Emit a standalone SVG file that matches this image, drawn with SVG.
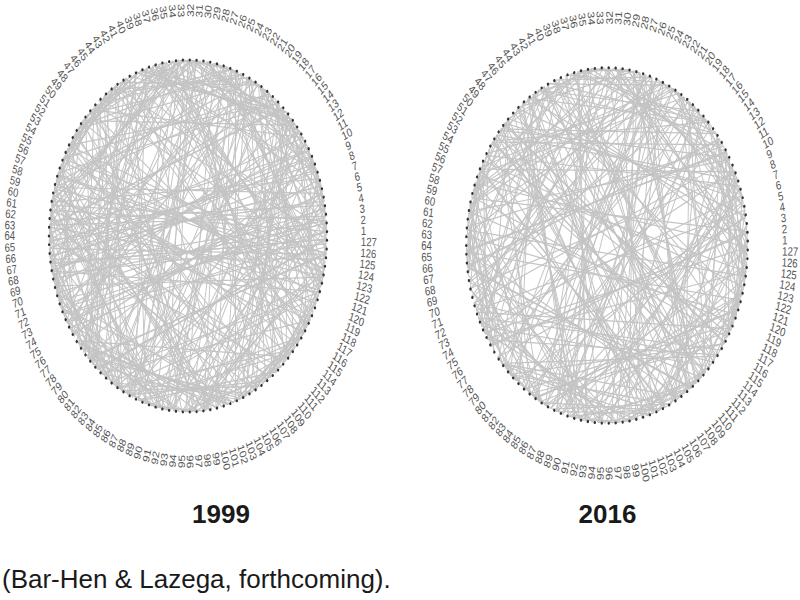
<svg xmlns="http://www.w3.org/2000/svg" width="800" height="600" viewBox="0 0 800 600">
<style>
.nodes circle{fill:#333333}
.nodes text{font-family:"Liberation Sans",Arial,sans-serif;font-size:12px;fill:#555555;dominant-baseline:central}
.nodes text.e{text-anchor:end}
.edges{stroke:#c4c4c4;stroke-width:1.2;fill:none}
.title{font-family:"Liberation Sans",Arial,sans-serif;font-size:26px;font-weight:bold;fill:#1a1a1a;text-anchor:middle}
.cap{font-family:"Liberation Sans",Arial,sans-serif;font-size:26px;fill:#1a1a1a}
</style>
<defs>
<line id="c20" x1="176" y1="0" x2="165.4" y2="60.2"/>
<line id="c30" x1="176" y1="0" x2="152.4" y2="88"/>
<line id="c40" x1="176" y1="0" x2="134.8" y2="113.1"/>
<line id="c50" x1="176" y1="0" x2="113.1" y2="134.8"/>
<line id="c60" x1="176" y1="0" x2="88" y2="152.4"/>
<line id="c70" x1="176" y1="0" x2="60.2" y2="165.4"/>
<line id="c80" x1="176" y1="0" x2="30.6" y2="173.3"/>
<line id="c90" x1="176" y1="0" x2="0" y2="176"/>
<line id="c100" x1="176" y1="0" x2="-30.6" y2="173.3"/>
<line id="c110" x1="176" y1="0" x2="-60.2" y2="165.4"/>
<line id="c120" x1="176" y1="0" x2="-88" y2="152.4"/>
<line id="c130" x1="176" y1="0" x2="-113.1" y2="134.8"/>
<line id="c140" x1="176" y1="0" x2="-134.8" y2="113.1"/>
<line id="c150" x1="176" y1="0" x2="-152.4" y2="88"/>
<line id="c160" x1="176" y1="0" x2="-165.4" y2="60.2"/>
<line id="c170" x1="176" y1="0" x2="-173.3" y2="30.6"/>
<line id="c180" x1="176" y1="0" x2="-170" y2="45.6"/>
<g id="bA">
<use href="#c90" transform="rotate(137.5)"/><use href="#c150" transform="rotate(275)"/><use href="#c40" transform="rotate(52.5)"/><use href="#c180" transform="rotate(190)"/>
<use href="#c120" transform="rotate(327.5)"/><use href="#c60" transform="rotate(105)"/><use href="#c160" transform="rotate(242.5)"/><use href="#c100" transform="rotate(20)"/>
<use href="#c30" transform="rotate(157.5)"/><use href="#c140" transform="rotate(295)"/><use href="#c70" transform="rotate(72.5)"/><use href="#c170" transform="rotate(210)"/>
<use href="#c110" transform="rotate(347.5)"/><use href="#c50" transform="rotate(125)"/><use href="#c130" transform="rotate(262.5)"/><use href="#c80" transform="rotate(40)"/>
<use href="#c20" transform="rotate(177.5)"/><use href="#c90" transform="rotate(315)"/><use href="#c150" transform="rotate(92.5)"/><use href="#c40" transform="rotate(230)"/>
<use href="#c180" transform="rotate(7.5)"/><use href="#c120" transform="rotate(145)"/><use href="#c60" transform="rotate(282.5)"/><use href="#c160" transform="rotate(60)"/>
<use href="#c100" transform="rotate(197.5)"/><use href="#c30" transform="rotate(335)"/><use href="#c140" transform="rotate(112.5)"/><use href="#c70" transform="rotate(250)"/>
<use href="#c170" transform="rotate(27.5)"/><use href="#c110" transform="rotate(165)"/><use href="#c50" transform="rotate(302.5)"/><use href="#c130" transform="rotate(80)"/>
<use href="#c80" transform="rotate(217.5)"/><use href="#c20" transform="rotate(355)"/><use href="#c90" transform="rotate(132.5)"/><use href="#c150" transform="rotate(270)"/>
<use href="#c40" transform="rotate(47.5)"/><use href="#c180" transform="rotate(185)"/><use href="#c120" transform="rotate(322.5)"/><use href="#c60" transform="rotate(100)"/>
<use href="#c160" transform="rotate(237.5)"/><use href="#c100" transform="rotate(15)"/><use href="#c30" transform="rotate(152.5)"/><use href="#c140" transform="rotate(290)"/>
<use href="#c70" transform="rotate(67.5)"/><use href="#c170" transform="rotate(205)"/><use href="#c110" transform="rotate(342.5)"/><use href="#c50" transform="rotate(120)"/>
<use href="#c130" transform="rotate(257.5)"/><use href="#c80" transform="rotate(35)"/><use href="#c20" transform="rotate(172.5)"/><use href="#c90" transform="rotate(310)"/>
<use href="#c150" transform="rotate(87.5)"/><use href="#c40" transform="rotate(225)"/><use href="#c180" transform="rotate(2.5)"/><use href="#c120" transform="rotate(140)"/>
<use href="#c60" transform="rotate(277.5)"/><use href="#c160" transform="rotate(55)"/><use href="#c100" transform="rotate(192.5)"/><use href="#c30" transform="rotate(330)"/>
<use href="#c140" transform="rotate(107.5)"/><use href="#c70" transform="rotate(245)"/><use href="#c170" transform="rotate(22.5)"/><use href="#c110" transform="rotate(160)"/>
</g>
<g id="bB">
<use href="#c130" transform="rotate(148.5)"/><use href="#c170" transform="rotate(286)"/><use href="#c60" transform="rotate(63.5)"/><use href="#c110" transform="rotate(201)"/>
<use href="#c20" transform="rotate(338.5)"/><use href="#c150" transform="rotate(116)"/><use href="#c90" transform="rotate(253.5)"/><use href="#c40" transform="rotate(31)"/>
<use href="#c180" transform="rotate(168.5)"/><use href="#c70" transform="rotate(306)"/><use href="#c120" transform="rotate(83.5)"/><use href="#c30" transform="rotate(221)"/>
<use href="#c160" transform="rotate(358.5)"/><use href="#c100" transform="rotate(136)"/><use href="#c50" transform="rotate(273.5)"/><use href="#c140" transform="rotate(51)"/>
<use href="#c80" transform="rotate(188.5)"/><use href="#c130" transform="rotate(326)"/><use href="#c170" transform="rotate(103.5)"/><use href="#c60" transform="rotate(241)"/>
<use href="#c110" transform="rotate(18.5)"/><use href="#c20" transform="rotate(156)"/><use href="#c150" transform="rotate(293.5)"/><use href="#c90" transform="rotate(71)"/>
<use href="#c40" transform="rotate(208.5)"/><use href="#c180" transform="rotate(346)"/><use href="#c70" transform="rotate(123.5)"/><use href="#c120" transform="rotate(261)"/>
<use href="#c30" transform="rotate(38.5)"/><use href="#c160" transform="rotate(176)"/><use href="#c100" transform="rotate(313.5)"/><use href="#c50" transform="rotate(91)"/>
<use href="#c140" transform="rotate(228.5)"/><use href="#c80" transform="rotate(6)"/><use href="#c130" transform="rotate(143.5)"/><use href="#c170" transform="rotate(281)"/>
<use href="#c60" transform="rotate(58.5)"/><use href="#c110" transform="rotate(196)"/><use href="#c20" transform="rotate(333.5)"/><use href="#c150" transform="rotate(111)"/>
<use href="#c90" transform="rotate(248.5)"/><use href="#c40" transform="rotate(26)"/><use href="#c180" transform="rotate(163.5)"/><use href="#c70" transform="rotate(301)"/>
<use href="#c120" transform="rotate(78.5)"/><use href="#c30" transform="rotate(216)"/><use href="#c160" transform="rotate(353.5)"/><use href="#c100" transform="rotate(131)"/>
<use href="#c50" transform="rotate(268.5)"/><use href="#c140" transform="rotate(46)"/><use href="#c80" transform="rotate(183.5)"/><use href="#c130" transform="rotate(321)"/>
<use href="#c170" transform="rotate(98.5)"/><use href="#c60" transform="rotate(236)"/><use href="#c110" transform="rotate(13.5)"/><use href="#c20" transform="rotate(151)"/>
<use href="#c150" transform="rotate(288.5)"/><use href="#c90" transform="rotate(66)"/><use href="#c40" transform="rotate(203.5)"/><use href="#c180" transform="rotate(341)"/>
<use href="#c70" transform="rotate(118.5)"/><use href="#c120" transform="rotate(256)"/><use href="#c30" transform="rotate(33.5)"/><use href="#c160" transform="rotate(171)"/>
</g>
</defs>
<rect width="800" height="600" fill="#ffffff"/>

<g id="net1999" transform="translate(188,236) scale(0.79,1)">
<g id="edges1999" class="edges">
<use href="#bA"/>
<use href="#bB"/>
<use href="#bA" transform="rotate(33) scale(1,-1)"/>
<use href="#bB" transform="rotate(97) scale(1,-1)"/>
<use href="#bA" transform="rotate(151)"/>
<use href="#bB" transform="rotate(262) scale(-1,1)"/>
<line x1="-165.4" y1="-60.2" x2="172.2" y2="36.6"/>
<line x1="-60.2" y1="-165.4" x2="45.6" y2="170"/>
<line x1="88" y1="-152.4" x2="-74.4" y2="159.5"/>
<line x1="-124.5" y1="124.5" x2="134.8" y2="-113.1"/>
<line x1="-173.3" y1="30.6" x2="175.3" y2="-15.3"/>
<line x1="-15.3" y1="175.3" x2="0" y2="-176"/>
<line x1="-124.5" y1="-124.5" x2="117.8" y2="130.8"/>
</g>
<g id="nodes1999" class="nodes">
<g id="p1" transform="rotate(-1.42)"><circle cx="176" r="1.5"/><text x="219">1</text></g>
<g id="p2" transform="rotate(-4.25)"><circle cx="176" r="1.5"/><text x="219">2</text></g>
<g id="p3" transform="rotate(-7.09)"><circle cx="176" r="1.5"/><text x="219">3</text></g>
<g id="p4" transform="rotate(-9.92)"><circle cx="176" r="1.5"/><text x="219">4</text></g>
<g id="p5" transform="rotate(-12.76)"><circle cx="176" r="1.5"/><text x="219">5</text></g>
<g id="p6" transform="rotate(-15.59)"><circle cx="176" r="1.5"/><text x="219">6</text></g>
<g id="p7" transform="rotate(-18.43)"><circle cx="176" r="1.5"/><text x="219">7</text></g>
<g id="p8" transform="rotate(-21.26)"><circle cx="176" r="1.5"/><text x="219">8</text></g>
<g id="p9" transform="rotate(-24.09)"><circle cx="176" r="1.5"/><text x="219">9</text></g>
<g id="p10" transform="rotate(-26.93)"><circle cx="176" r="1.5"/><text x="219">10</text></g>
<g id="p11" transform="rotate(-29.76)"><circle cx="176" r="1.5"/><text x="219">11</text></g>
<g id="p12" transform="rotate(-32.6)"><circle cx="176" r="1.5"/><text x="219">12</text></g>
<g id="p13" transform="rotate(-35.43)"><circle cx="176" r="1.5"/><text x="219">13</text></g>
<g id="p14" transform="rotate(-38.27)"><circle cx="176" r="1.5"/><text x="219">14</text></g>
<g id="p15" transform="rotate(-41.1)"><circle cx="176" r="1.5"/><text x="219">15</text></g>
<g id="p16" transform="rotate(-43.94)"><circle cx="176" r="1.5"/><text x="219">16</text></g>
<g id="p17" transform="rotate(-46.77)"><circle cx="176" r="1.5"/><text x="219">17</text></g>
<g id="p18" transform="rotate(-49.61)"><circle cx="176" r="1.5"/><text x="219">18</text></g>
<g id="p19" transform="rotate(-52.44)"><circle cx="176" r="1.5"/><text x="219">19</text></g>
<g id="p20" transform="rotate(-55.28)"><circle cx="176" r="1.5"/><text x="219">20</text></g>
<g id="p21" transform="rotate(-58.11)"><circle cx="176" r="1.5"/><text x="219">21</text></g>
<g id="p22" transform="rotate(-60.94)"><circle cx="176" r="1.5"/><text x="219">22</text></g>
<g id="p23" transform="rotate(-63.78)"><circle cx="176" r="1.5"/><text x="219">23</text></g>
<g id="p24" transform="rotate(-66.61)"><circle cx="176" r="1.5"/><text x="219">24</text></g>
<g id="p25" transform="rotate(-69.45)"><circle cx="176" r="1.5"/><text x="219">25</text></g>
<g id="p26" transform="rotate(-72.28)"><circle cx="176" r="1.5"/><text x="219">26</text></g>
<g id="p27" transform="rotate(-75.12)"><circle cx="176" r="1.5"/><text x="219">27</text></g>
<g id="p28" transform="rotate(-77.95)"><circle cx="176" r="1.5"/><text x="219">28</text></g>
<g id="p29" transform="rotate(-80.79)"><circle cx="176" r="1.5"/><text x="219">29</text></g>
<g id="p30" transform="rotate(-83.62)"><circle cx="176" r="1.5"/><text x="219">30</text></g>
<g id="p31" transform="rotate(-86.46)"><circle cx="176" r="1.5"/><text x="219">31</text></g>
<g id="p32" transform="rotate(-89.29)"><circle cx="176" r="1.5"/><text x="219">32</text></g>
<g id="p33" transform="rotate(87.87)"><circle cx="-176" r="1.5"/><text x="-219" class="e">33</text></g>
<g id="p34" transform="rotate(85.04)"><circle cx="-176" r="1.5"/><text x="-219" class="e">34</text></g>
<g id="p35" transform="rotate(82.2)"><circle cx="-176" r="1.5"/><text x="-219" class="e">35</text></g>
<g id="p36" transform="rotate(79.37)"><circle cx="-176" r="1.5"/><text x="-219" class="e">36</text></g>
<g id="p37" transform="rotate(76.54)"><circle cx="-176" r="1.5"/><text x="-219" class="e">37</text></g>
<g id="p38" transform="rotate(73.7)"><circle cx="-176" r="1.5"/><text x="-219" class="e">38</text></g>
<g id="p39" transform="rotate(70.87)"><circle cx="-176" r="1.5"/><text x="-219" class="e">39</text></g>
<g id="p40" transform="rotate(68.03)"><circle cx="-176" r="1.5"/><text x="-219" class="e">40</text></g>
<g id="p41" transform="rotate(65.2)"><circle cx="-176" r="1.5"/><text x="-219" class="e">41</text></g>
<g id="p42" transform="rotate(62.36)"><circle cx="-176" r="1.5"/><text x="-219" class="e">42</text></g>
<g id="p43" transform="rotate(59.53)"><circle cx="-176" r="1.5"/><text x="-219" class="e">43</text></g>
<g id="p44" transform="rotate(56.69)"><circle cx="-176" r="1.5"/><text x="-219" class="e">44</text></g>
<g id="p45" transform="rotate(53.86)"><circle cx="-176" r="1.5"/><text x="-219" class="e">45</text></g>
<g id="p46" transform="rotate(51.02)"><circle cx="-176" r="1.5"/><text x="-219" class="e">46</text></g>
<g id="p47" transform="rotate(48.19)"><circle cx="-176" r="1.5"/><text x="-219" class="e">47</text></g>
<g id="p48" transform="rotate(45.35)"><circle cx="-176" r="1.5"/><text x="-219" class="e">48</text></g>
<g id="p49" transform="rotate(42.52)"><circle cx="-176" r="1.5"/><text x="-219" class="e">49</text></g>
<g id="p50" transform="rotate(39.69)"><circle cx="-176" r="1.5"/><text x="-219" class="e">50</text></g>
<g id="p51" transform="rotate(36.85)"><circle cx="-176" r="1.5"/><text x="-219" class="e">51</text></g>
<g id="p52" transform="rotate(34.02)"><circle cx="-176" r="1.5"/><text x="-219" class="e">52</text></g>
<g id="p53" transform="rotate(31.18)"><circle cx="-176" r="1.5"/><text x="-219" class="e">53</text></g>
<g id="p54" transform="rotate(28.35)"><circle cx="-176" r="1.5"/><text x="-219" class="e">54</text></g>
<g id="p55" transform="rotate(25.51)"><circle cx="-176" r="1.5"/><text x="-219" class="e">55</text></g>
<g id="p56" transform="rotate(22.68)"><circle cx="-176" r="1.5"/><text x="-219" class="e">56</text></g>
<g id="p57" transform="rotate(19.84)"><circle cx="-176" r="1.5"/><text x="-219" class="e">57</text></g>
<g id="p58" transform="rotate(17.01)"><circle cx="-176" r="1.5"/><text x="-219" class="e">58</text></g>
<g id="p59" transform="rotate(14.17)"><circle cx="-176" r="1.5"/><text x="-219" class="e">59</text></g>
<g id="p60" transform="rotate(11.34)"><circle cx="-176" r="1.5"/><text x="-219" class="e">60</text></g>
<g id="p61" transform="rotate(8.5)"><circle cx="-176" r="1.5"/><text x="-219" class="e">61</text></g>
<g id="p62" transform="rotate(5.67)"><circle cx="-176" r="1.5"/><text x="-219" class="e">62</text></g>
<g id="p63" transform="rotate(2.83)"><circle cx="-176" r="1.5"/><text x="-219" class="e">63</text></g>
<g id="p64" transform="rotate(0)"><circle cx="-176" r="1.5"/><text x="-219" class="e">64</text></g>
<g id="p65" transform="rotate(-2.83)"><circle cx="-176" r="1.5"/><text x="-219" class="e">65</text></g>
<g id="p66" transform="rotate(-5.67)"><circle cx="-176" r="1.5"/><text x="-219" class="e">66</text></g>
<g id="p67" transform="rotate(-8.5)"><circle cx="-176" r="1.5"/><text x="-219" class="e">67</text></g>
<g id="p68" transform="rotate(-11.34)"><circle cx="-176" r="1.5"/><text x="-219" class="e">68</text></g>
<g id="p69" transform="rotate(-14.17)"><circle cx="-176" r="1.5"/><text x="-219" class="e">69</text></g>
<g id="p70" transform="rotate(-17.01)"><circle cx="-176" r="1.5"/><text x="-219" class="e">70</text></g>
<g id="p71" transform="rotate(-19.84)"><circle cx="-176" r="1.5"/><text x="-219" class="e">71</text></g>
<g id="p72" transform="rotate(-22.68)"><circle cx="-176" r="1.5"/><text x="-219" class="e">72</text></g>
<g id="p73" transform="rotate(-25.51)"><circle cx="-176" r="1.5"/><text x="-219" class="e">73</text></g>
<g id="p74" transform="rotate(-28.35)"><circle cx="-176" r="1.5"/><text x="-219" class="e">74</text></g>
<g id="p75" transform="rotate(-31.18)"><circle cx="-176" r="1.5"/><text x="-219" class="e">75</text></g>
<g id="p76" transform="rotate(-34.02)"><circle cx="-176" r="1.5"/><text x="-219" class="e">76</text></g>
<g id="p77" transform="rotate(-36.85)"><circle cx="-176" r="1.5"/><text x="-219" class="e">77</text></g>
<g id="p78" transform="rotate(-39.69)"><circle cx="-176" r="1.5"/><text x="-219" class="e">78</text></g>
<g id="p79" transform="rotate(-42.52)"><circle cx="-176" r="1.5"/><text x="-219" class="e">79</text></g>
<g id="p80" transform="rotate(-45.35)"><circle cx="-176" r="1.5"/><text x="-219" class="e">80</text></g>
<g id="p81" transform="rotate(-48.19)"><circle cx="-176" r="1.5"/><text x="-219" class="e">81</text></g>
<g id="p82" transform="rotate(-51.02)"><circle cx="-176" r="1.5"/><text x="-219" class="e">82</text></g>
<g id="p83" transform="rotate(-53.86)"><circle cx="-176" r="1.5"/><text x="-219" class="e">83</text></g>
<g id="p84" transform="rotate(-56.69)"><circle cx="-176" r="1.5"/><text x="-219" class="e">84</text></g>
<g id="p85" transform="rotate(-59.53)"><circle cx="-176" r="1.5"/><text x="-219" class="e">85</text></g>
<g id="p86" transform="rotate(-62.36)"><circle cx="-176" r="1.5"/><text x="-219" class="e">86</text></g>
<g id="p87" transform="rotate(-65.2)"><circle cx="-176" r="1.5"/><text x="-219" class="e">87</text></g>
<g id="p88" transform="rotate(-68.03)"><circle cx="-176" r="1.5"/><text x="-219" class="e">88</text></g>
<g id="p89" transform="rotate(-70.87)"><circle cx="-176" r="1.5"/><text x="-219" class="e">89</text></g>
<g id="p90" transform="rotate(-73.7)"><circle cx="-176" r="1.5"/><text x="-219" class="e">90</text></g>
<g id="p91" transform="rotate(-76.54)"><circle cx="-176" r="1.5"/><text x="-219" class="e">91</text></g>
<g id="p92" transform="rotate(-79.37)"><circle cx="-176" r="1.5"/><text x="-219" class="e">92</text></g>
<g id="p93" transform="rotate(-82.2)"><circle cx="-176" r="1.5"/><text x="-219" class="e">93</text></g>
<g id="p94" transform="rotate(-85.04)"><circle cx="-176" r="1.5"/><text x="-219" class="e">94</text></g>
<g id="p95" transform="rotate(-87.87)"><circle cx="-176" r="1.5"/><text x="-219" class="e">95</text></g>
<g id="p96" transform="rotate(89.29)"><circle cx="176" r="1.5"/><text x="219">96</text></g>
<g id="p97" transform="rotate(86.46)"><circle cx="176" r="1.5"/><text x="219">97</text></g>
<g id="p98" transform="rotate(83.62)"><circle cx="176" r="1.5"/><text x="219">98</text></g>
<g id="p99" transform="rotate(80.79)"><circle cx="176" r="1.5"/><text x="219">99</text></g>
<g id="p100" transform="rotate(77.95)"><circle cx="176" r="1.5"/><text x="219">100</text></g>
<g id="p101" transform="rotate(75.12)"><circle cx="176" r="1.5"/><text x="219">101</text></g>
<g id="p102" transform="rotate(72.28)"><circle cx="176" r="1.5"/><text x="219">102</text></g>
<g id="p103" transform="rotate(69.45)"><circle cx="176" r="1.5"/><text x="219">103</text></g>
<g id="p104" transform="rotate(66.61)"><circle cx="176" r="1.5"/><text x="219">104</text></g>
<g id="p105" transform="rotate(63.78)"><circle cx="176" r="1.5"/><text x="219">105</text></g>
<g id="p106" transform="rotate(60.94)"><circle cx="176" r="1.5"/><text x="219">106</text></g>
<g id="p107" transform="rotate(58.11)"><circle cx="176" r="1.5"/><text x="219">107</text></g>
<g id="p108" transform="rotate(55.28)"><circle cx="176" r="1.5"/><text x="219">108</text></g>
<g id="p109" transform="rotate(52.44)"><circle cx="176" r="1.5"/><text x="219">109</text></g>
<g id="p110" transform="rotate(49.61)"><circle cx="176" r="1.5"/><text x="219">110</text></g>
<g id="p111" transform="rotate(46.77)"><circle cx="176" r="1.5"/><text x="219">111</text></g>
<g id="p112" transform="rotate(43.94)"><circle cx="176" r="1.5"/><text x="219">112</text></g>
<g id="p113" transform="rotate(41.1)"><circle cx="176" r="1.5"/><text x="219">113</text></g>
<g id="p114" transform="rotate(38.27)"><circle cx="176" r="1.5"/><text x="219">114</text></g>
<g id="p115" transform="rotate(35.43)"><circle cx="176" r="1.5"/><text x="219">115</text></g>
<g id="p116" transform="rotate(32.6)"><circle cx="176" r="1.5"/><text x="219">116</text></g>
<g id="p117" transform="rotate(29.76)"><circle cx="176" r="1.5"/><text x="219">117</text></g>
<g id="p118" transform="rotate(26.93)"><circle cx="176" r="1.5"/><text x="219">118</text></g>
<g id="p119" transform="rotate(24.09)"><circle cx="176" r="1.5"/><text x="219">119</text></g>
<g id="p120" transform="rotate(21.26)"><circle cx="176" r="1.5"/><text x="219">120</text></g>
<g id="p121" transform="rotate(18.43)"><circle cx="176" r="1.5"/><text x="219">121</text></g>
<g id="p122" transform="rotate(15.59)"><circle cx="176" r="1.5"/><text x="219">122</text></g>
<g id="p123" transform="rotate(12.76)"><circle cx="176" r="1.5"/><text x="219">123</text></g>
<g id="p124" transform="rotate(9.92)"><circle cx="176" r="1.5"/><text x="219">124</text></g>
<g id="p125" transform="rotate(7.09)"><circle cx="176" r="1.5"/><text x="219">125</text></g>
<g id="p126" transform="rotate(4.25)"><circle cx="176" r="1.5"/><text x="219">126</text></g>
<g id="p127" transform="rotate(1.42)"><circle cx="176" r="1.5"/><text x="219">127</text></g>
</g>
</g>

<g id="net2016" transform="translate(607,245.5) scale(0.8,1.01)">
<g id="edges2016" class="edges">
<use href="#bA" transform="rotate(201)"/>
<use href="#bB" transform="rotate(77) scale(-1,1)"/>
<use href="#bA" transform="rotate(313) scale(1,-1)"/>
<use href="#bB" transform="rotate(140)"/>
<use href="#bA" transform="rotate(58) scale(-1,1)"/>
<line x1="173.3" y1="30.6" x2="-175.3" y2="-15.3"/>
<line x1="88" y1="152.4" x2="-74.4" y2="-159.5"/>
<line x1="-60.2" y1="165.4" x2="45.6" y2="-170"/>
<line x1="-152.4" y1="88" x2="159.5" y2="-74.4"/>
<line x1="-144.2" y1="-100.9" x2="152.4" y2="88"/>
</g>
<g id="nodes2016" class="nodes">
<g id="q1" transform="rotate(-1.42)"><circle cx="176" r="1.5"/><text x="219">1</text></g>
<g id="q2" transform="rotate(-4.25)"><circle cx="176" r="1.5"/><text x="219">2</text></g>
<g id="q3" transform="rotate(-7.09)"><circle cx="176" r="1.5"/><text x="219">3</text></g>
<g id="q4" transform="rotate(-9.92)"><circle cx="176" r="1.5"/><text x="219">4</text></g>
<g id="q5" transform="rotate(-12.76)"><circle cx="176" r="1.5"/><text x="219">5</text></g>
<g id="q6" transform="rotate(-15.59)"><circle cx="176" r="1.5"/><text x="219">6</text></g>
<g id="q7" transform="rotate(-18.43)"><circle cx="176" r="1.5"/><text x="219">7</text></g>
<g id="q8" transform="rotate(-21.26)"><circle cx="176" r="1.5"/><text x="219">8</text></g>
<g id="q9" transform="rotate(-24.09)"><circle cx="176" r="1.5"/><text x="219">9</text></g>
<g id="q10" transform="rotate(-26.93)"><circle cx="176" r="1.5"/><text x="219">10</text></g>
<g id="q11" transform="rotate(-29.76)"><circle cx="176" r="1.5"/><text x="219">11</text></g>
<g id="q12" transform="rotate(-32.6)"><circle cx="176" r="1.5"/><text x="219">12</text></g>
<g id="q13" transform="rotate(-35.43)"><circle cx="176" r="1.5"/><text x="219">13</text></g>
<g id="q14" transform="rotate(-38.27)"><circle cx="176" r="1.5"/><text x="219">14</text></g>
<g id="q15" transform="rotate(-41.1)"><circle cx="176" r="1.5"/><text x="219">15</text></g>
<g id="q16" transform="rotate(-43.94)"><circle cx="176" r="1.5"/><text x="219">16</text></g>
<g id="q17" transform="rotate(-46.77)"><circle cx="176" r="1.5"/><text x="219">17</text></g>
<g id="q18" transform="rotate(-49.61)"><circle cx="176" r="1.5"/><text x="219">18</text></g>
<g id="q19" transform="rotate(-52.44)"><circle cx="176" r="1.5"/><text x="219">19</text></g>
<g id="q20" transform="rotate(-55.28)"><circle cx="176" r="1.5"/><text x="219">20</text></g>
<g id="q21" transform="rotate(-58.11)"><circle cx="176" r="1.5"/><text x="219">21</text></g>
<g id="q22" transform="rotate(-60.94)"><circle cx="176" r="1.5"/><text x="219">22</text></g>
<g id="q23" transform="rotate(-63.78)"><circle cx="176" r="1.5"/><text x="219">23</text></g>
<g id="q24" transform="rotate(-66.61)"><circle cx="176" r="1.5"/><text x="219">24</text></g>
<g id="q25" transform="rotate(-69.45)"><circle cx="176" r="1.5"/><text x="219">25</text></g>
<g id="q26" transform="rotate(-72.28)"><circle cx="176" r="1.5"/><text x="219">26</text></g>
<g id="q27" transform="rotate(-75.12)"><circle cx="176" r="1.5"/><text x="219">27</text></g>
<g id="q28" transform="rotate(-77.95)"><circle cx="176" r="1.5"/><text x="219">28</text></g>
<g id="q29" transform="rotate(-80.79)"><circle cx="176" r="1.5"/><text x="219">29</text></g>
<g id="q30" transform="rotate(-83.62)"><circle cx="176" r="1.5"/><text x="219">30</text></g>
<g id="q31" transform="rotate(-86.46)"><circle cx="176" r="1.5"/><text x="219">31</text></g>
<g id="q32" transform="rotate(-89.29)"><circle cx="176" r="1.5"/><text x="219">32</text></g>
<g id="q33" transform="rotate(87.87)"><circle cx="-176" r="1.5"/><text x="-219" class="e">33</text></g>
<g id="q34" transform="rotate(85.04)"><circle cx="-176" r="1.5"/><text x="-219" class="e">34</text></g>
<g id="q35" transform="rotate(82.2)"><circle cx="-176" r="1.5"/><text x="-219" class="e">35</text></g>
<g id="q36" transform="rotate(79.37)"><circle cx="-176" r="1.5"/><text x="-219" class="e">36</text></g>
<g id="q37" transform="rotate(76.54)"><circle cx="-176" r="1.5"/><text x="-219" class="e">37</text></g>
<g id="q38" transform="rotate(73.7)"><circle cx="-176" r="1.5"/><text x="-219" class="e">38</text></g>
<g id="q39" transform="rotate(70.87)"><circle cx="-176" r="1.5"/><text x="-219" class="e">39</text></g>
<g id="q40" transform="rotate(68.03)"><circle cx="-176" r="1.5"/><text x="-219" class="e">40</text></g>
<g id="q41" transform="rotate(65.2)"><circle cx="-176" r="1.5"/><text x="-219" class="e">41</text></g>
<g id="q42" transform="rotate(62.36)"><circle cx="-176" r="1.5"/><text x="-219" class="e">42</text></g>
<g id="q43" transform="rotate(59.53)"><circle cx="-176" r="1.5"/><text x="-219" class="e">43</text></g>
<g id="q44" transform="rotate(56.69)"><circle cx="-176" r="1.5"/><text x="-219" class="e">44</text></g>
<g id="q45" transform="rotate(53.86)"><circle cx="-176" r="1.5"/><text x="-219" class="e">45</text></g>
<g id="q46" transform="rotate(51.02)"><circle cx="-176" r="1.5"/><text x="-219" class="e">46</text></g>
<g id="q47" transform="rotate(48.19)"><circle cx="-176" r="1.5"/><text x="-219" class="e">47</text></g>
<g id="q48" transform="rotate(45.35)"><circle cx="-176" r="1.5"/><text x="-219" class="e">48</text></g>
<g id="q49" transform="rotate(42.52)"><circle cx="-176" r="1.5"/><text x="-219" class="e">49</text></g>
<g id="q50" transform="rotate(39.69)"><circle cx="-176" r="1.5"/><text x="-219" class="e">50</text></g>
<g id="q51" transform="rotate(36.85)"><circle cx="-176" r="1.5"/><text x="-219" class="e">51</text></g>
<g id="q52" transform="rotate(34.02)"><circle cx="-176" r="1.5"/><text x="-219" class="e">52</text></g>
<g id="q53" transform="rotate(31.18)"><circle cx="-176" r="1.5"/><text x="-219" class="e">53</text></g>
<g id="q54" transform="rotate(28.35)"><circle cx="-176" r="1.5"/><text x="-219" class="e">54</text></g>
<g id="q55" transform="rotate(25.51)"><circle cx="-176" r="1.5"/><text x="-219" class="e">55</text></g>
<g id="q56" transform="rotate(22.68)"><circle cx="-176" r="1.5"/><text x="-219" class="e">56</text></g>
<g id="q57" transform="rotate(19.84)"><circle cx="-176" r="1.5"/><text x="-219" class="e">57</text></g>
<g id="q58" transform="rotate(17.01)"><circle cx="-176" r="1.5"/><text x="-219" class="e">58</text></g>
<g id="q59" transform="rotate(14.17)"><circle cx="-176" r="1.5"/><text x="-219" class="e">59</text></g>
<g id="q60" transform="rotate(11.34)"><circle cx="-176" r="1.5"/><text x="-219" class="e">60</text></g>
<g id="q61" transform="rotate(8.5)"><circle cx="-176" r="1.5"/><text x="-219" class="e">61</text></g>
<g id="q62" transform="rotate(5.67)"><circle cx="-176" r="1.5"/><text x="-219" class="e">62</text></g>
<g id="q63" transform="rotate(2.83)"><circle cx="-176" r="1.5"/><text x="-219" class="e">63</text></g>
<g id="q64" transform="rotate(0)"><circle cx="-176" r="1.5"/><text x="-219" class="e">64</text></g>
<g id="q65" transform="rotate(-2.83)"><circle cx="-176" r="1.5"/><text x="-219" class="e">65</text></g>
<g id="q66" transform="rotate(-5.67)"><circle cx="-176" r="1.5"/><text x="-219" class="e">66</text></g>
<g id="q67" transform="rotate(-8.5)"><circle cx="-176" r="1.5"/><text x="-219" class="e">67</text></g>
<g id="q68" transform="rotate(-11.34)"><circle cx="-176" r="1.5"/><text x="-219" class="e">68</text></g>
<g id="q69" transform="rotate(-14.17)"><circle cx="-176" r="1.5"/><text x="-219" class="e">69</text></g>
<g id="q70" transform="rotate(-17.01)"><circle cx="-176" r="1.5"/><text x="-219" class="e">70</text></g>
<g id="q71" transform="rotate(-19.84)"><circle cx="-176" r="1.5"/><text x="-219" class="e">71</text></g>
<g id="q72" transform="rotate(-22.68)"><circle cx="-176" r="1.5"/><text x="-219" class="e">72</text></g>
<g id="q73" transform="rotate(-25.51)"><circle cx="-176" r="1.5"/><text x="-219" class="e">73</text></g>
<g id="q74" transform="rotate(-28.35)"><circle cx="-176" r="1.5"/><text x="-219" class="e">74</text></g>
<g id="q75" transform="rotate(-31.18)"><circle cx="-176" r="1.5"/><text x="-219" class="e">75</text></g>
<g id="q76" transform="rotate(-34.02)"><circle cx="-176" r="1.5"/><text x="-219" class="e">76</text></g>
<g id="q77" transform="rotate(-36.85)"><circle cx="-176" r="1.5"/><text x="-219" class="e">77</text></g>
<g id="q78" transform="rotate(-39.69)"><circle cx="-176" r="1.5"/><text x="-219" class="e">78</text></g>
<g id="q79" transform="rotate(-42.52)"><circle cx="-176" r="1.5"/><text x="-219" class="e">79</text></g>
<g id="q80" transform="rotate(-45.35)"><circle cx="-176" r="1.5"/><text x="-219" class="e">80</text></g>
<g id="q81" transform="rotate(-48.19)"><circle cx="-176" r="1.5"/><text x="-219" class="e">81</text></g>
<g id="q82" transform="rotate(-51.02)"><circle cx="-176" r="1.5"/><text x="-219" class="e">82</text></g>
<g id="q83" transform="rotate(-53.86)"><circle cx="-176" r="1.5"/><text x="-219" class="e">83</text></g>
<g id="q84" transform="rotate(-56.69)"><circle cx="-176" r="1.5"/><text x="-219" class="e">84</text></g>
<g id="q85" transform="rotate(-59.53)"><circle cx="-176" r="1.5"/><text x="-219" class="e">85</text></g>
<g id="q86" transform="rotate(-62.36)"><circle cx="-176" r="1.5"/><text x="-219" class="e">86</text></g>
<g id="q87" transform="rotate(-65.2)"><circle cx="-176" r="1.5"/><text x="-219" class="e">87</text></g>
<g id="q88" transform="rotate(-68.03)"><circle cx="-176" r="1.5"/><text x="-219" class="e">88</text></g>
<g id="q89" transform="rotate(-70.87)"><circle cx="-176" r="1.5"/><text x="-219" class="e">89</text></g>
<g id="q90" transform="rotate(-73.7)"><circle cx="-176" r="1.5"/><text x="-219" class="e">90</text></g>
<g id="q91" transform="rotate(-76.54)"><circle cx="-176" r="1.5"/><text x="-219" class="e">91</text></g>
<g id="q92" transform="rotate(-79.37)"><circle cx="-176" r="1.5"/><text x="-219" class="e">92</text></g>
<g id="q93" transform="rotate(-82.2)"><circle cx="-176" r="1.5"/><text x="-219" class="e">93</text></g>
<g id="q94" transform="rotate(-85.04)"><circle cx="-176" r="1.5"/><text x="-219" class="e">94</text></g>
<g id="q95" transform="rotate(-87.87)"><circle cx="-176" r="1.5"/><text x="-219" class="e">95</text></g>
<g id="q96" transform="rotate(89.29)"><circle cx="176" r="1.5"/><text x="219">96</text></g>
<g id="q97" transform="rotate(86.46)"><circle cx="176" r="1.5"/><text x="219">97</text></g>
<g id="q98" transform="rotate(83.62)"><circle cx="176" r="1.5"/><text x="219">98</text></g>
<g id="q99" transform="rotate(80.79)"><circle cx="176" r="1.5"/><text x="219">99</text></g>
<g id="q100" transform="rotate(77.95)"><circle cx="176" r="1.5"/><text x="219">100</text></g>
<g id="q101" transform="rotate(75.12)"><circle cx="176" r="1.5"/><text x="219">101</text></g>
<g id="q102" transform="rotate(72.28)"><circle cx="176" r="1.5"/><text x="219">102</text></g>
<g id="q103" transform="rotate(69.45)"><circle cx="176" r="1.5"/><text x="219">103</text></g>
<g id="q104" transform="rotate(66.61)"><circle cx="176" r="1.5"/><text x="219">104</text></g>
<g id="q105" transform="rotate(63.78)"><circle cx="176" r="1.5"/><text x="219">105</text></g>
<g id="q106" transform="rotate(60.94)"><circle cx="176" r="1.5"/><text x="219">106</text></g>
<g id="q107" transform="rotate(58.11)"><circle cx="176" r="1.5"/><text x="219">107</text></g>
<g id="q108" transform="rotate(55.28)"><circle cx="176" r="1.5"/><text x="219">108</text></g>
<g id="q109" transform="rotate(52.44)"><circle cx="176" r="1.5"/><text x="219">109</text></g>
<g id="q110" transform="rotate(49.61)"><circle cx="176" r="1.5"/><text x="219">110</text></g>
<g id="q111" transform="rotate(46.77)"><circle cx="176" r="1.5"/><text x="219">111</text></g>
<g id="q112" transform="rotate(43.94)"><circle cx="176" r="1.5"/><text x="219">112</text></g>
<g id="q113" transform="rotate(41.1)"><circle cx="176" r="1.5"/><text x="219">113</text></g>
<g id="q114" transform="rotate(38.27)"><circle cx="176" r="1.5"/><text x="219">114</text></g>
<g id="q115" transform="rotate(35.43)"><circle cx="176" r="1.5"/><text x="219">115</text></g>
<g id="q116" transform="rotate(32.6)"><circle cx="176" r="1.5"/><text x="219">116</text></g>
<g id="q117" transform="rotate(29.76)"><circle cx="176" r="1.5"/><text x="219">117</text></g>
<g id="q118" transform="rotate(26.93)"><circle cx="176" r="1.5"/><text x="219">118</text></g>
<g id="q119" transform="rotate(24.09)"><circle cx="176" r="1.5"/><text x="219">119</text></g>
<g id="q120" transform="rotate(21.26)"><circle cx="176" r="1.5"/><text x="219">120</text></g>
<g id="q121" transform="rotate(18.43)"><circle cx="176" r="1.5"/><text x="219">121</text></g>
<g id="q122" transform="rotate(15.59)"><circle cx="176" r="1.5"/><text x="219">122</text></g>
<g id="q123" transform="rotate(12.76)"><circle cx="176" r="1.5"/><text x="219">123</text></g>
<g id="q124" transform="rotate(9.92)"><circle cx="176" r="1.5"/><text x="219">124</text></g>
<g id="q125" transform="rotate(7.09)"><circle cx="176" r="1.5"/><text x="219">125</text></g>
<g id="q126" transform="rotate(4.25)"><circle cx="176" r="1.5"/><text x="219">126</text></g>
<g id="q127" transform="rotate(1.42)"><circle cx="176" r="1.5"/><text x="219">127</text></g>
</g>
</g>

<text class="title" x="221" y="523">1999</text>
<text class="title" x="607.5" y="523">2016</text>
<text class="cap" x="2" y="588">(Bar-Hen &amp; Lazega, forthcoming).</text>
</svg>
